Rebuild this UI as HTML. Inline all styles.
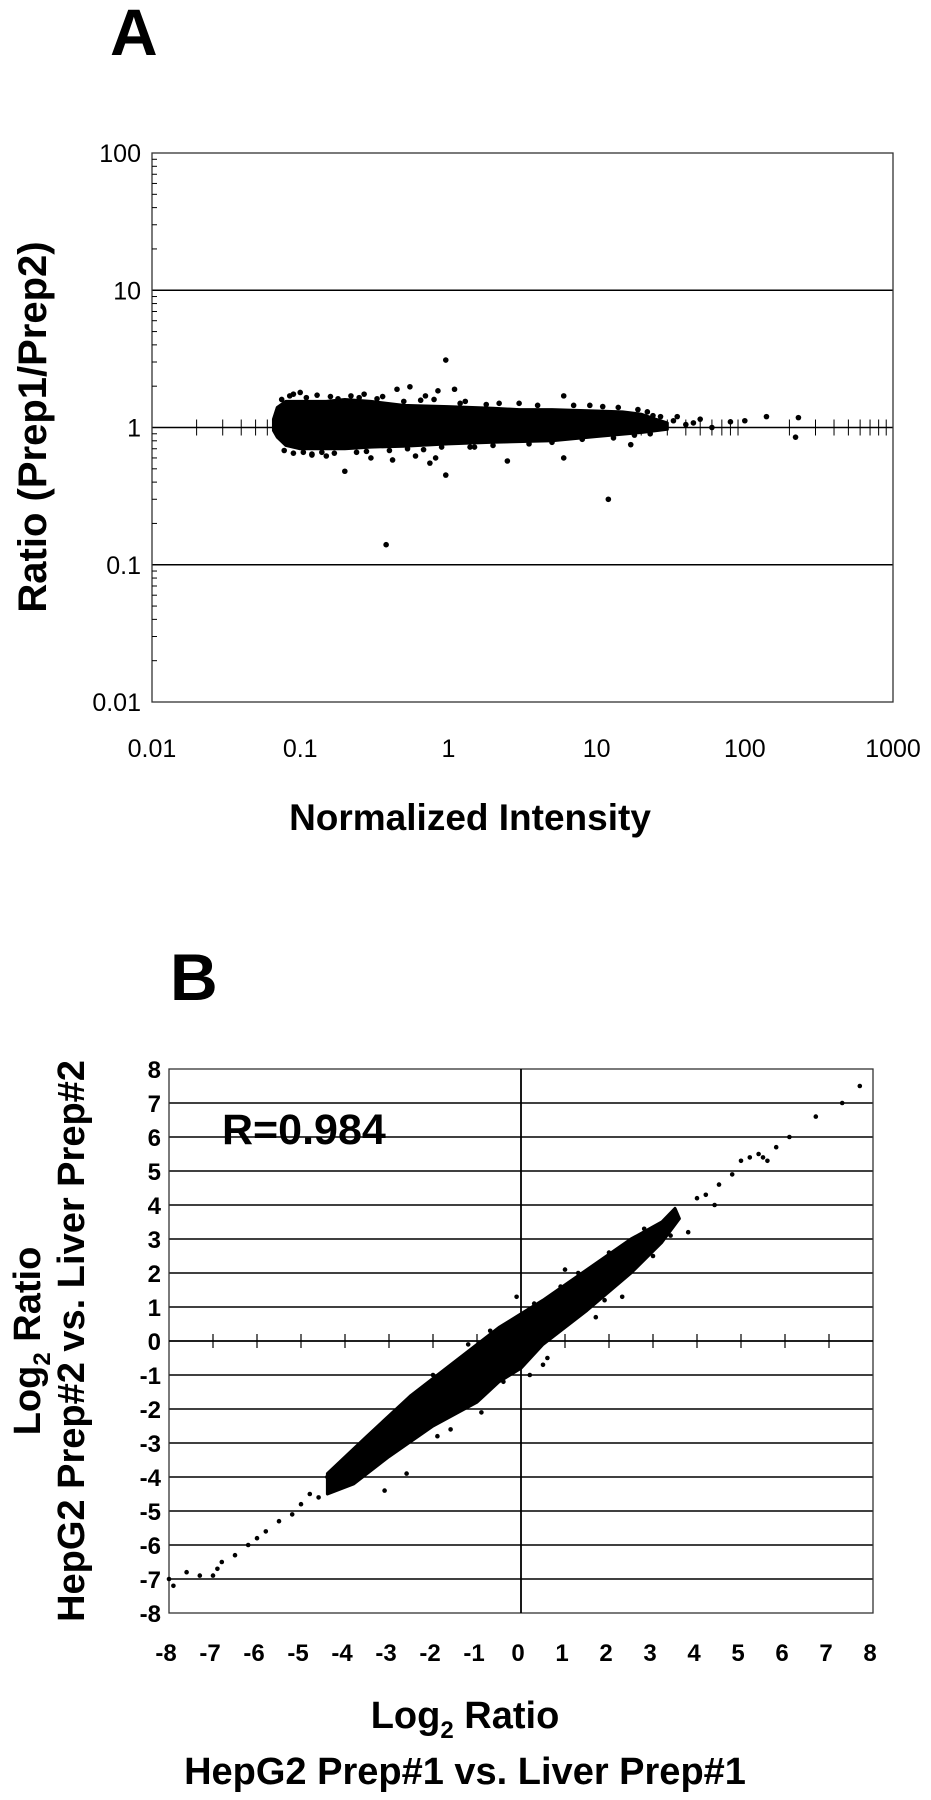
<!DOCTYPE html>
<html><head><meta charset="utf-8">
<style>
html,body{margin:0;padding:0;background:#fff;}
svg{display:block;font-family:"Liberation Sans",Arial,sans-serif;}
</style></head>
<body>
<svg id="fig" width="931" height="1800" viewBox="0 0 931 1800" xmlns="http://www.w3.org/2000/svg">
  <text x="110" y="55" font-size="66" font-weight="bold">A</text>
  <text x="170" y="1000" font-size="66" font-weight="bold">B</text>
  <g id="chartA"></g>
  <g id="chartB"></g>
  <text transform="translate(46,427) rotate(-90)" text-anchor="middle" font-size="40" font-weight="bold">Ratio (Prep1/Prep2)</text>
  <text x="470" y="830" text-anchor="middle" font-size="37" font-weight="bold">Normalized Intensity</text>
  <text transform="translate(40,1341) rotate(-90)" text-anchor="middle" font-size="38" font-weight="bold">Log<tspan font-size="24" dy="10">2</tspan><tspan dy="-10"> Ratio</tspan></text>
  <text transform="translate(84,1341) rotate(-90)" text-anchor="middle" font-size="38" font-weight="bold">HepG2 Prep#2 vs. Liver Prep#2</text>
  <text x="465" y="1728" text-anchor="middle" font-size="38" font-weight="bold">Log<tspan font-size="24" dy="10">2</tspan><tspan dy="-10"> Ratio</tspan></text>
  <text x="465" y="1784" text-anchor="middle" font-size="38" font-weight="bold">HepG2 Prep#1 vs. Liver Prep#1</text>
  <text x="222" y="1144" font-size="43" font-weight="bold">R=0.984</text>
</svg>
<script>
// ---- Chart A data ----
const aXTicks = [0.01, 0.1, 1, 10, 100, 1000];
const aXTickLabels = ["0.01", "0.1", "1", "10", "100", "1000"];
const aYTicks = [0.01, 0.1, 1, 10, 100];
const aYTickLabels = ["0.01", "0.1", "1", "10", "100"];
const aGridY = [0.1, 1, 10];
const aCloudX = [0.066,0.07,0.08,0.1,0.15,0.2,0.3,0.5,1,2,3,5,10,15,20,25,30, 30,20,10,5,2,1,0.5,0.3,0.2,0.1,0.08,0.07,0.066];
const aCloudY = [1.15,1.4,1.55,1.55,1.55,1.6,1.55,1.45,1.42,1.38,1.35,1.35,1.32,1.3,1.25,1.15,1.08, 0.97,0.92,0.86,0.8,0.78,0.76,0.73,0.72,0.7,0.7,0.74,0.85,0.95];
const aPointX = [0.96,0.38,12,0.2,0.96,0.55,0.45,0.1,0.85,1.1,0.7,6,35,50,80,100,140,230,220,0.15,0.3,0.75,2.5,6,17,40,60,27,0.25,0.6,1.5,3,9,0.09,0.12,0.42,0.82,1.3,
  0.075,0.085,0.11,0.13,0.16,0.18,0.22,0.27,0.33,0.36,0.5,0.65,0.8,1.2,1.8,2.2,4,7,11,14,19,22,
  0.078,0.09,0.105,0.12,0.14,0.17,0.24,0.28,0.4,0.53,0.68,0.9,1.4,2,3.5,5,8,13,18,23,24,33,45];
const aPointY = [3.1,0.14,0.3,0.48,0.45,1.98,1.9,1.8,1.85,1.9,1.7,1.7,1.2,1.15,1.1,1.12,1.2,1.18,0.85,0.62,0.6,0.55,0.57,0.6,0.75,1.05,1.0,1.2,1.65,0.62,0.72,1.5,1.45,1.75,0.63,0.58,0.6,1.55,
  1.6,1.7,1.65,1.72,1.68,1.62,1.7,1.75,1.62,1.68,1.55,1.58,1.6,1.5,1.47,1.5,1.45,1.45,1.42,1.4,1.35,1.3,
  0.68,0.65,0.66,0.64,0.66,0.65,0.66,0.67,0.68,0.7,0.69,0.72,0.72,0.74,0.76,0.78,0.82,0.84,0.88,0.9,1.22,1.12,1.08];

// ---- Chart B data ----
const bTicks = [-8,-7,-6,-5,-4,-3,-2,-1,0,1,2,3,4,5,6,7,8];
const bTickLabels = ["-8","-7","-6","-5","-4","-3","-2","-1","0","1","2","3","4","5","6","7","8"];
const bCloudX = [-4.4,-3.5,-2.5,-1.5,-0.5,0,0.5,1.5,2.5,3.2,3.5, 3.6,3.2,2.5,1.5,0.5,0,-0.5,-1,-2,-3,-3.8,-4.4];
const bCloudY = [-3.9,-2.8,-1.6,-0.6,0.4,0.8,1.2,2.1,3.0,3.5,3.9, 3.6,2.9,2.0,0.9,-0.1,-0.8,-1.2,-1.8,-2.5,-3.4,-4.2,-4.5];
const bPointX = [-8,-7.9,-7.6,-7.3,-7,-6.9,-6.8,-6.5,-6.2,-6,-5.8,-5.5,-5.2,-5,-4.8,-4.6,-4.4,-4.1,-3.8,-3.5,4.0,4.2,4.5,4.8,5,5.2,5.4,5.5,5.6,5.8,6.1,6.7,7.3,7.7,-0.1,0.5,1.7,2.3,-1.6,-2.6,-3.1,1.0,3,-0.4,3.8,4.4,
  -2.0,-1.2,-0.7,0.3,0.9,1.3,2.0,2.8,3.4,-2.9,-3.6,0.2,0.6,1.9,-1.9,-0.9];
const bPointY = [-7.0,-7.2,-6.8,-6.9,-6.9,-6.7,-6.5,-6.3,-6.0,-5.8,-5.6,-5.3,-5.1,-4.8,-4.5,-4.6,-4.0,-3.6,-3.4,-3.7,4.2,4.3,4.6,4.9,5.3,5.4,5.5,5.4,5.3,5.7,6.0,6.6,7.0,7.5,1.3,-0.7,0.7,1.3,-2.6,-3.9,-4.4,2.1,2.5,-1.2,3.2,4.0,
  -1.0,-0.1,0.3,1.1,1.6,2.0,2.6,3.3,3.1,-2.2,-3.2,-1.0,-0.5,1.2,-2.8,-2.1];

const NS = "http://www.w3.org/2000/svg";
function mk(parent, tag, attrs) {
  const e = document.createElementNS(NS, tag);
  for (const k in attrs) e.setAttribute(k, attrs[k]);
  parent.appendChild(e);
  return e;
}

// Chart A geometry
const A = {l:152, r:893, t:153, b:702};
const axX = v => A.l + (Math.log10(v) + 2) / 5 * (A.r - A.l);
const axY = v => A.b - (Math.log10(v) + 2) / 4 * (A.b - A.t);
const gA = document.getElementById('chartA');

aGridY.forEach(v => {
  const ln = mk(gA, 'line', {x1:A.l, x2:A.r, y1:axY(v), y2:axY(v), stroke:'#000', 'stroke-width':1.5});
  
  
});
const frA = mk(gA, 'rect', {x:A.l, y:A.t, width:A.r-A.l, height:A.b-A.t, fill:'none', stroke:'#333', 'stroke-width':1.3});


for (let d = -2; d < 3; d++) {
  for (let m = 2; m <= 9; m++) {
    const v = m * Math.pow(10, d);
    const t = mk(gA, 'line', {x1:axX(v), x2:axX(v), y1:axY(1)-8, y2:axY(1)+8, stroke:'#000', 'stroke-width':1});
    
    
  }
}
for (let d = -2; d < 2; d++) {
  for (let m = 2; m <= 9; m++) {
    const v = m * Math.pow(10, d);
    const t = mk(gA, 'line', {x1:A.l, x2:A.l+5, y1:axY(v), y2:axY(v), stroke:'#000', 'stroke-width':1});
    
    
  }
}
aYTicks.forEach((v, i) => {
  const t = mk(gA, 'text', {x:141, y:axY(v)+9, 'text-anchor':'end', 'font-size':25});
  t.textContent = aYTickLabels[i];
  
  
});
aXTicks.forEach((v, i) => {
  const t = mk(gA, 'text', {x:axX(v), y:757, 'text-anchor':'middle', 'font-size':25});
  t.textContent = aXTickLabels[i];
  
  
});
const cloudA = mk(gA, 'polygon', {points: aCloudX.map((x, i) => axX(x) + ',' + axY(aCloudY[i])).join(' '), fill:'#000', stroke:'#000', 'stroke-width':3, 'stroke-linejoin':'round'});


aPointX.forEach((x, i) => {
  const c = mk(gA, 'circle', {cx:axX(x), cy:axY(aPointY[i]), r:2.8, fill:'#000'});
  
  
});

// Chart B geometry
const B = {l:169, r:873, t:1069, b:1613};
const bxX = v => B.l + (v + 8) / 16 * (B.r - B.l);
const bxY = v => B.b - (v + 8) / 16 * (B.b - B.t);
const gB = document.getElementById('chartB');
bTicks.forEach(v => {
  if (v > -8 && v < 8 && v !== 0) {
    const ln = mk(gB, 'line', {x1:B.l, x2:B.r, y1:bxY(v), y2:bxY(v), stroke:'#000', 'stroke-width':1.5});
    
    
  }
});
const frB = mk(gB, 'rect', {x:B.l, y:B.t, width:B.r-B.l, height:B.b-B.t, fill:'none', stroke:'#333', 'stroke-width':1.3});


const xAxB = mk(gB, 'line', {x1:B.l, x2:B.r, y1:bxY(0), y2:bxY(0), stroke:'#000', 'stroke-width':1.8});


const yAxB = mk(gB, 'line', {x1:bxX(0), x2:bxX(0), y1:B.t, y2:B.b, stroke:'#000', 'stroke-width':1.8});


bTicks.forEach((v, i) => {
  if (v > -8 && v < 8) {
    const t = mk(gB, 'line', {x1:bxX(v), x2:bxX(v), y1:bxY(0)-7, y2:bxY(0)+7, stroke:'#000', 'stroke-width':1.2});
    
    
  }
  const ly = mk(gB, 'text', {x:161, y:bxY(v)+9, 'text-anchor':'end', 'font-size':24, 'font-weight':'bold'});
  ly.textContent = bTickLabels[i];
  
  
  const lx = mk(gB, 'text', {x:bxX(v)-3, y:1661, 'text-anchor':'middle', 'font-size':24, 'font-weight':'bold'});
  lx.textContent = bTickLabels[i];
  
  
});
const cloudB = mk(gB, 'polygon', {points: bCloudX.map((x, i) => bxX(x) + ',' + bxY(bCloudY[i])).join(' '), fill:'#000', stroke:'#000', 'stroke-width':3, 'stroke-linejoin':'round'});


bPointX.forEach((x, i) => {
  const c = mk(gB, 'circle', {cx:bxX(x), cy:bxY(bPointY[i]), r:2.3, fill:'#000'});
  
  
});
</script>
</body></html>
